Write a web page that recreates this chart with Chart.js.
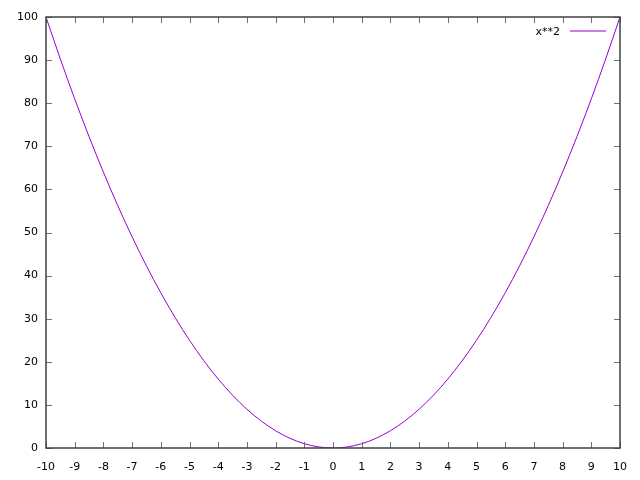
<!DOCTYPE html>
<html>
<head>
<meta charset="utf-8">
<script src="https://cdn.jsdelivr.net/npm/chart.js@4/dist/chart.umd.min.js"></script>
<style>
  html, body { margin: 0; padding: 0; background: #fff; }
  #wrap { width: 640px; height: 480px; }
</style>
</head>
<body>
<div id="wrap"><canvas id="plot" width="640" height="480"></canvas></div>
<script>
// values
var xValues = [-10, -9.5, -9, -8.5, -8, -7.5, -7, -6.5, -6, -5.5, -5, -4.5, -4, -3.5, -3, -2.5, -2, -1.5, -1, -0.5, 0,
               0.5, 1, 1.5, 2, 2.5, 3, 3.5, 4, 4.5, 5, 5.5, 6, 6.5, 7, 7.5, 8, 8.5, 9, 9.5, 10];
var yValues = [100, 90.25, 81, 72.25, 64, 56.25, 49, 42.25, 36, 30.25, 25, 20.25, 16, 12.25, 9, 6.25, 4, 2.25, 1, 0.25, 0,
               0.25, 1, 2.25, 4, 6.25, 9, 12.25, 16, 20.25, 25, 30.25, 36, 42.25, 49, 56.25, 64, 72.25, 81, 90.25, 100];
var xTicks = [-10, -9, -8, -7, -6, -5, -4, -3, -2, -1, 0, 1, 2, 3, 4, 5, 6, 7, 8, 9, 10];
var yTicks = [0, 10, 20, 30, 40, 50, 60, 70, 80, 90, 100];
var seriesLabel = 'x**2';
var lineColor = '#9400d3';

var FONT = { family: 'DejaVu Sans', size: 11 };

// frame, inward ticks on all four sides, and gnuplot-style key
var gnuFrame = {
    id: 'gnuFrame',
    afterDatasetsDraw: function(chart) {
        var c = chart.ctx;
        var a = chart.chartArea;
        var xs = chart.scales.x, ys = chart.scales.y;
        var len = 6;
        c.save();
        c.strokeStyle = '#707070';
        c.lineWidth = 1;
        xTicks.forEach(function(v) {
            var px = Math.round(xs.getPixelForValue(v)) + 0.5;
            c.beginPath();
            c.moveTo(px, a.bottom); c.lineTo(px, a.bottom - len);
            c.moveTo(px, a.top); c.lineTo(px, a.top + len);
            c.stroke();
        });
        yTicks.forEach(function(v) {
            var py = Math.round(ys.getPixelForValue(v)) + 0.5;
            c.beginPath();
            c.moveTo(a.left, py); c.lineTo(a.left + len, py);
            c.moveTo(a.right, py); c.lineTo(a.right - len, py);
            c.stroke();
        });
        c.strokeStyle = '#404040';
        c.lineWidth = 1.5;
        c.strokeRect(a.left, a.top, a.right - a.left, a.bottom - a.top);

        // key
        var ds = chart.data.datasets[0];
        c.font = FONT.size + 'px ' + FONT.family;
        c.fillStyle = '#000';
        c.textAlign = 'right';
        c.textBaseline = 'middle';
        c.fillText(ds.label, 560, 32);
        c.strokeStyle = ds.borderColor;
        c.lineWidth = 1;
        c.beginPath();
        c.moveTo(570, 31); c.lineTo(606, 31);
        c.stroke();
        c.restore();
    }
};

new Chart(document.getElementById('plot').getContext('2d'), {
    type: 'line',
    data: {
        datasets: [{
            label: seriesLabel,
            data: xValues.map(function(x, i) { return { x: x, y: yValues[i] }; }),
            borderColor: lineColor,
            borderWidth: 1,
            pointRadius: 0,
            fill: false,
            tension: 0.4,
            cubicInterpolationMode: 'monotone'
        }]
    },
    options: {
        responsive: false,
        animation: false,
        layout: { padding: { left: 0, right: 20, top: 17, bottom: 0 } },
        plugins: { legend: { display: false }, tooltip: { enabled: false } },
        scales: {
            x: {
                type: 'linear',
                min: -10, max: 10,
                grid: { display: false, drawTicks: false },
                border: { display: false },
                afterBuildTicks: function(s) { s.ticks = xTicks.map(function(v) { return { value: v }; }); },
                afterFit: function(s) { s.height = 32; },
                ticks: { color: '#000', font: FONT, padding: 13, maxRotation: 0, autoSkip: false }
            },
            y: {
                min: 0, max: 100,
                grid: { display: false, drawTicks: false },
                border: { display: false },
                afterBuildTicks: function(s) { s.ticks = yTicks.map(function(v) { return { value: v }; }); },
                afterFit: function(s) { s.width = 46; },
                ticks: { color: '#000', font: FONT, padding: 8 }
            }
        }
    },
    plugins: [gnuFrame]
});
</script>
</body>
</html>
